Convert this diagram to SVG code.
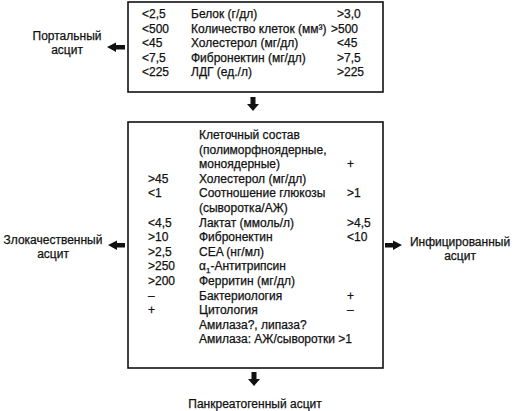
<svg xmlns="http://www.w3.org/2000/svg" width="531" height="411" viewBox="0 0 531 411">
<style>
text{font-family:"Liberation Sans",Arial,sans-serif;font-size:12px;fill:#111;stroke:#111;stroke-width:0.25}
.c{text-anchor:middle}
.box{fill:#fff;stroke:#111;stroke-width:1.6}
.arr{fill:#111}
</style>
<rect width="531" height="411" fill="#fff"/>
<g id="top-box">
<rect class="box" x="128" y="2" width="255" height="90"/>
<text x="142" y="18">&lt;2,5</text><text x="191" y="18">Белок (г/дл)</text><text x="337" y="18">&gt;3,0</text>
<text x="142" y="32.5">&lt;500</text><text x="191" y="32.5">Количество клеток (мм³)</text><text x="331" y="32.5">&gt;500</text>
<text x="142" y="47">&lt;45</text><text x="191" y="47">Холестерол (мг/дл)</text><text x="337" y="47">&lt;45</text>
<text x="142" y="61.5">&lt;7,5</text><text x="191" y="61.5">Фибронектин (мг/дл)</text><text x="337" y="61.5">&gt;7,5</text>
<text x="142" y="76">&lt;225</text><text x="191" y="76">ЛДГ (ед./л)</text><text x="337" y="76">&gt;225</text>
</g>
<g id="portal">
<text class="c" x="67" y="40">Портальный</text>
<text class="c" x="67" y="54">асцит</text>
</g>
<g id="main-box">
<rect class="box" x="128" y="122" width="255" height="246"/>
<text x="199" y="139">Клеточный состав</text>
<text x="199" y="153.6">(полиморфноядерные,</text>
<text x="199" y="168.2">моноядерные)</text><text x="347" y="168.2">+</text>
<text x="148" y="182.8">&gt;45</text><text x="199" y="182.8">Холестерол (мг/дл)</text>
<text x="148" y="197.4">&lt;1</text><text x="199" y="197.4">Соотношение глюкозы</text><text x="347" y="197.4">&gt;1</text>
<text x="199" y="212">(сыворотка/АЖ)</text>
<text x="148" y="226.6">&lt;4,5</text><text x="199" y="226.6">Лактат (ммоль/л)</text><text x="347" y="226.6">&gt;4,5</text>
<text x="148" y="241.2">&gt;10</text><text x="199" y="241.2">Фибронектин</text><text x="347" y="241.2">&lt;10</text>
<text x="148" y="255.8">&gt;2,5</text><text x="199" y="255.8">CEA (нг/мл)</text>
<text x="148" y="270.4">&gt;250</text><text x="199" y="270.4">α<tspan font-size="8" dy="3">1</tspan><tspan dy="-3">-Антитрипсин</tspan></text>
<text x="148" y="285">&gt;200</text><text x="199" y="285">Ферритин (мг/дл)</text>
<text x="148" y="299.6">–</text><text x="199" y="299.6">Бактериология</text><text x="347" y="299.6">+</text>
<text x="148" y="314.2">+</text><text x="199" y="314.2">Цитология</text><text x="347" y="314.2">–</text>
<text x="199" y="328.8">Амилаза?, липаза?</text>
<text x="199" y="343.4">Амилаза: АЖ/сыворотки &gt;1</text>
</g>
<g id="malignant">
<text class="c" x="53" y="244">Злокачественный</text>
<text class="c" x="53" y="258">асцит</text>
</g>
<g id="infected">
<text class="c" x="460" y="246">Инфицированный</text>
<text class="c" x="460" y="260">асцит</text>
</g>
<g id="pancreatic">
<text class="c" x="255" y="408">Панкреатогенный асцит</text>
</g>
<g id="connectors">
<path class="arr" d="M107,47 L116,42.5 L116,45 L125,45 L125,49.5 L116,49.5 L116,52 Z"/>
<path class="arr" d="M253,111 L247,104 L250.5,104 L250.5,97 L255.5,97 L255.5,104 L259,104 Z"/>
<path class="arr" d="M108,245 L117,240.5 L117,243 L125,243 L125,247.5 L117,247.5 L117,250 Z"/>
<path class="arr" d="M402,245 L393,240.5 L393,243 L385,243 L385,247.5 L393,247.5 L393,250 Z"/>
<path class="arr" d="M254,386 L248,379 L251.5,379 L251.5,372 L256.5,372 L256.5,379 L260,379 Z"/>
</g>
</svg>
